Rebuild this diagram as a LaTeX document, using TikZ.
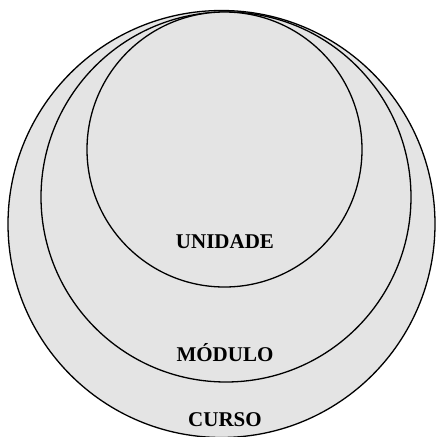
\documentclass[tikz,border=0pt]{standalone}
\usepackage{fontspec}
\setmainfont{Liberation Serif}
\definecolor{fillgray}{HTML}{E4E4E4}
\begin{document}
\begin{tikzpicture}[x=1pt,y=-1pt,
  ring/.style={draw=black,line width=1.3pt,fill=fillgray},
  lbl/.style={font=\fontsize{21}{23}\selectfont\bfseries,inner sep=0pt}]
\useasboundingbox (0,0) rectangle (437,437);
\draw[ring] (221.5,224) circle[radius=213.5];
\draw[ring] (226,197) circle[radius=185];
\draw[ring] (224.5,149.5) circle[radius=137.5];
\node[lbl] (unidade) at (225,242) {UNIDADE};
\node[lbl] (modulo) at (225,353) {MÓDULO};
\node[lbl] (curso) at (225,420) {CURSO};
\end{tikzpicture}
\end{document}
